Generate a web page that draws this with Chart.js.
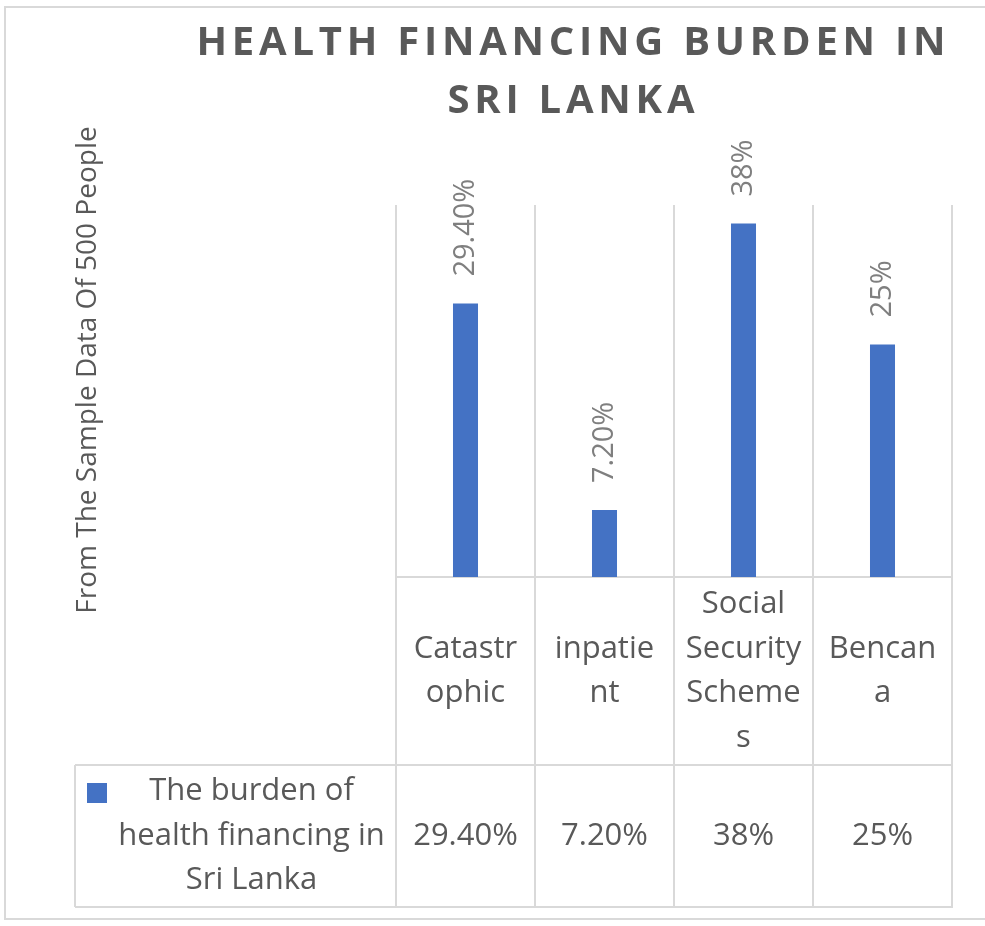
<!DOCTYPE html>
<html>
<head>
<meta charset="utf-8">
<title>Health Financing Burden in Sri Lanka</title>
<script src="https://cdn.jsdelivr.net/npm/chart.js@4.4.1/dist/chart.umd.min.js"></script>
<style>
    html, body {
        margin: 0;
        padding: 0;
        background: #fff;
    }
    #wrap {
        width: 985px;
        height: 926px;
        position: relative;
    }
</style>
</head>
<body>
<div id="wrap"><canvas id="chart"></canvas></div>
<script>
// data, as shown in the chart (category names wrapped like the data table)
const categories = [['Catastr', 'ophic'], ['inpatie', 'nt'], ['Social', 'Security', 'Scheme', 's'], ['Bencan', 'a']]
const seriesName = ['The burden of', 'health financing in', 'Sri Lanka']
const values = [29.4, 7.2, 38, 25]
const valueLabels = ['29.40%', '7.20%', '38%', '25%']
const titleLines = ['HEALTH FINANCING BURDEN IN', 'SRI LANKA']
const yTitle = 'From The Sample Data Of 500 People'
const yMin = 0
const yMax = 40

// colours and layout
const BAR = '#4472C4'
const GRID = '#d9d9d9'
const TEXT = '#595959'
const LABEL = '#7f7f7f'
const FONT = '"Open Sans", "Noto Sans", sans-serif'
const HEAD_H = 188      // category row of the data table
const ROW_H = 142       // series row of the data table
const TABLE_LEFT = 75
const TITLE_X = 571
const TITLE_W = 749     // width of first title line

// draws title, axis title, value labels and the data table under the plot
const tablePlugin = {
    id: 'excelTable',
    afterDraw(chart) {
        const ctx = chart.ctx
        const area = chart.chartArea
        const xScale = chart.scales.x
        const meta = chart.getDatasetMeta(0)
        const headTop = area.bottom
        const rowTop = headTop + HEAD_H
        const rowBottom = rowTop + ROW_H

        ctx.save()

        // chart frame (open on the right, cut by the picture edge)
        ctx.strokeStyle = GRID
        ctx.lineWidth = 2
        ctx.beginPath()
        ctx.moveTo(chart.width, 7)
        ctx.lineTo(5, 7)
        ctx.lineTo(5, 919)
        ctx.lineTo(chart.width, 919)
        ctx.stroke()

        // title, spaced out like the Excel style
        ctx.fillStyle = TEXT
        ctx.font = 'bold 40px ' + FONT
        ctx.textAlign = 'center'
        ctx.textBaseline = 'middle'
        ctx.letterSpacing = '0px'
        let plain = ctx.measureText(titleLines[0]).width
        let spacing = Math.max(0, (TITLE_W - plain) / (titleLines[0].length - 1))
        ctx.letterSpacing = spacing + 'px'
        ctx.fillText(titleLines[0], TITLE_X + spacing / 2, 44)
        ctx.fillText(titleLines[1], TITLE_X + spacing / 2, 102)
        ctx.letterSpacing = '0px'

        // vertical axis title
        ctx.save()
        ctx.translate(88, 370)
        ctx.rotate(-Math.PI / 2)
        ctx.font = '28px ' + FONT
        ctx.fillStyle = TEXT
        ctx.fillText(yTitle, 0, 0)
        ctx.restore()

        // value labels above the bars
        ctx.font = '29px ' + FONT
        ctx.fillStyle = LABEL
        ctx.textAlign = 'left'
        meta.data.forEach((bar, i) => {
            ctx.save()
            ctx.translate(bar.x, bar.y - 27)
            ctx.rotate(-Math.PI / 2)
            ctx.fillText(valueLabels[i], 0, 0)
            ctx.restore()
        })

        // table borders (column lines come from the x grid)
        ctx.strokeStyle = GRID
        ctx.lineWidth = 2
        ctx.beginPath()
        ctx.moveTo(TABLE_LEFT, rowTop)
        ctx.lineTo(area.right + 1, rowTop)
        ctx.moveTo(TABLE_LEFT, rowBottom)
        ctx.lineTo(area.right + 1, rowBottom)
        ctx.moveTo(TABLE_LEFT, rowTop)
        ctx.lineTo(TABLE_LEFT, rowBottom)
        ctx.stroke()

        // category names and values
        ctx.font = '31px ' + FONT
        ctx.fillStyle = TEXT
        ctx.textAlign = 'center'
        const lh = 44.5
        categories.forEach((lines, i) => {
            const cx = xScale.getPixelForValue(i)
            const y0 = headTop + HEAD_H / 2 - (lines.length - 1) * lh / 2
            lines.forEach((t, j) => ctx.fillText(t, cx, y0 + j * lh))
            ctx.fillText(valueLabels[i], cx, rowTop + ROW_H / 2)
        })

        // legend key and series name
        ctx.fillStyle = BAR
        ctx.fillRect(TABLE_LEFT + 12, rowTop + 18, 20, 20)
        ctx.fillStyle = TEXT
        const nameX = (TABLE_LEFT + 32 + area.left) / 2
        const n0 = rowTop + ROW_H / 2 - (seriesName.length - 1) * lh / 2
        seriesName.forEach((t, j) => ctx.fillText(t, nameX, n0 + j * lh))

        ctx.restore()
    }
}

let ctx = document.getElementById('chart').getContext('2d')
let chart = new Chart(ctx, {
    type: 'bar',
    data: {
        labels: categories,
        datasets: [{
            label: seriesName.join(' '),
            data: values,
            backgroundColor: BAR,
            borderWidth: 0,
            barPercentage: 0.18,
            categoryPercentage: 1
        }]
    },
    options: {
        responsive: true,
        maintainAspectRatio: false,
        animation: false,
        layout: {
            padding: { left: 396, top: 205, right: 33, bottom: 19 }
        },
        scales: {
            x: {
                ticks: { display: false },
                grid: {
                    color: GRID,
                    lineWidth: 2,
                    offset: true,
                    drawTicks: true,
                    tickLength: HEAD_H + ROW_H
                },
                border: { display: true, color: GRID, width: 2 }
            },
            y: {
                display: false,
                min: yMin,
                max: yMax
            }
        },
        plugins: {
            legend: { display: false },
            tooltip: { enabled: false },
            title: { display: false }
        }
    },
    plugins: [tablePlugin]
})
</script>
</body>
</html>
